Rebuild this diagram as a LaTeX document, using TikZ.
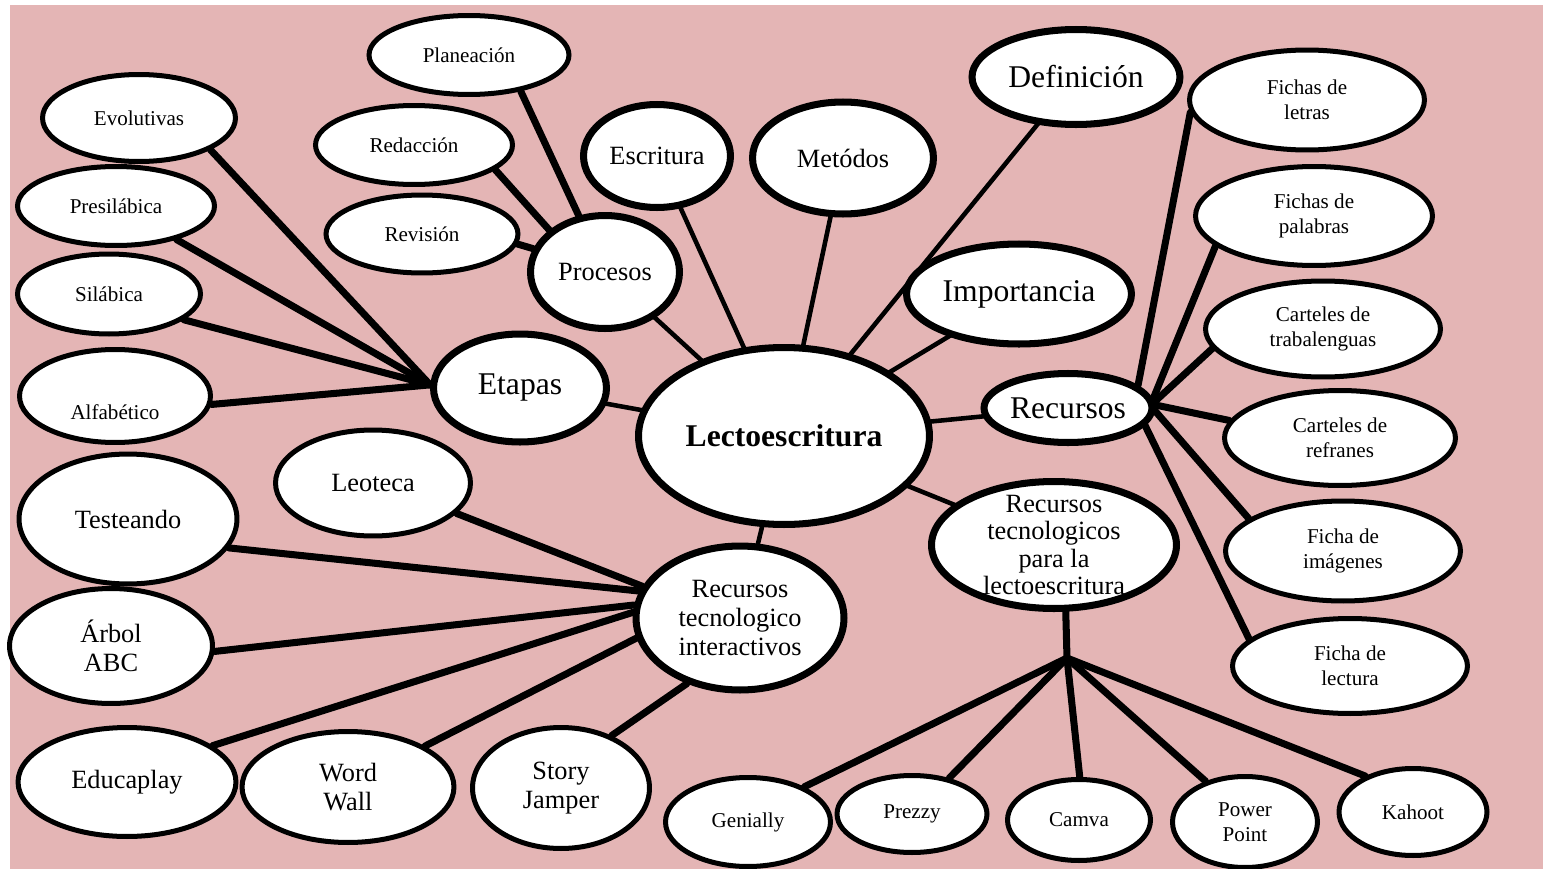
\documentclass[tikz,border=0pt]{standalone}
\usepackage{fontspec}
\setmainfont{Liberation Serif}
\usetikzlibrary{shapes.geometric,backgrounds}
\pgfdeclarelayer{lineas}
\pgfsetlayers{background,lineas,main}
\definecolor{rosa}{RGB}{228,181,181}

\begin{document}
\begin{tikzpicture}
	[x=0.02cm, y=-0.02cm,
	burbuja/.style = {draw, fill=white, ellipse, inner sep=0pt, align=center, line width=2.85pt},
	nodo/.style = {burbuja, line width=4pt},
	central/.style = {nodo, font=\fontsize{18}{20}\selectfont\bfseries},
	letra grande/.style = {font=\fontsize{18}{20}\selectfont},
	letra media/.style = {font=\fontsize{15}{16.5}\selectfont},
	letra chica/.style = {font=\fontsize{12}{14}\selectfont},
	rama/.style = {line width=4pt, line cap=round},
	enlace/.style = {line width=2.6pt}
	]
	\useasboundingbox (0,0) rectangle (1543,869);
	\begin{pgfonlayer}{background}
		\fill[rosa] (10,5) rectangle (1543,869);
	\end{pgfonlayer}

	\node[central, minimum width=5.82cm, minimum height=3.54cm] (lecto) at (784,436) {Lectoescritura};

	\node[nodo, letra grande, minimum width=3.46cm, minimum height=2.16cm] (etapas) at (520,388) {Etapas};
	\node[nodo, letra media, minimum width=2.98cm, minimum height=2.26cm] (procesos) at (605,272) {Procesos};
	\node[nodo, letra media, minimum width=2.94cm, minimum height=2.06cm] (escritura) at (657,156) {Escritura};
	\node[nodo, letra media, minimum width=3.62cm, minimum height=2.24cm] (metodos) at (843,158) {Metódos};
	\node[nodo, letra grande, minimum width=4.16cm, minimum height=1.9cm] (definicion) at (1076,77) {Definición};
	\node[nodo, letra grande, minimum width=4.5cm, minimum height=2.0cm] (importancia) at (1019,294) {Importancia};
	\node[nodo, letra grande, minimum width=3.36cm, minimum height=1.38cm] (recursos) at (1068,408) {Recursos};
	\node[nodo, letra media, font=\fontsize{15}{15.5}\selectfont, inner ysep=-10pt, minimum width=4.9cm, minimum height=2.54cm] (rtl) at (1054,545) {Recursos\\tecnologicos\\para la\\lectoescritura};
	\node[nodo, letra media, minimum width=4.16cm, minimum height=2.88cm] (rti) at (740,618) {Recursos\\tecnologico\\interactivos};

	\node[burbuja, letra chica, minimum width=3.86cm, minimum height=1.74cm] (evolutivas) at (139,118) {Evolutivas};
	\node[burbuja, letra chica, minimum width=3.94cm, minimum height=1.58cm] (presilabica) at (116,206) {Presilábica};
	\node[burbuja, letra chica, minimum width=3.66cm, minimum height=1.6cm] (silabica) at (109,294) {Silábica};
	\node[burbuja, letra chica, minimum width=3.82cm, minimum height=1.86cm] (alfabetico) at (115,396) {\raisebox{-13.5pt}[0pt][0pt]{Alfabético}};
	\node[burbuja, letra chica, minimum width=4.0cm, minimum height=1.58cm] (planeacion) at (469,55) {Planeación};
	\node[burbuja, letra chica, minimum width=3.94cm, minimum height=1.58cm] (redaccion) at (414,145) {Redacción};
	\node[burbuja, letra chica, minimum width=3.84cm, minimum height=1.56cm] (revision) at (422,234) {Revisión};

	\node[burbuja, letra media, minimum width=3.9cm, minimum height=2.12cm] (leoteca) at (373,483) {Leoteca};
	\node[burbuja, letra media, minimum width=4.36cm, minimum height=2.6cm] (testeando) at (128,519) {Testeando};
	\node[burbuja, letra media, minimum width=4.06cm, minimum height=2.3cm] (arbol) at (111,646) {Árbol\\ABC};
	\node[burbuja, letra media, minimum width=4.36cm, minimum height=2.18cm] (educaplay) at (127,782) {Educaplay};
	\node[burbuja, letra media, minimum width=4.24cm, minimum height=2.22cm] (wordwall) at (348,787) {Word\\Wall};
	\node[burbuja, letra media, minimum width=3.54cm, minimum height=2.42cm] (story) at (561,788) {Story\\Jamper};

	\node[burbuja, letra chica, minimum width=4.7cm, minimum height=2.0cm] (letras) at (1307,100) {Fichas de\\letras};
	\node[burbuja, letra chica, minimum width=4.74cm, minimum height=1.98cm] (palabras) at (1314,216) {Fichas de\\palabras};
	\node[burbuja, letra chica, minimum width=4.7cm, minimum height=1.92cm] (trabalenguas) at (1323,329) {Carteles de\\trabalenguas};
	\node[burbuja, letra chica, minimum width=4.62cm, minimum height=1.9cm] (refranes) at (1340,438) {Carteles de\\refranes};
	\node[burbuja, letra chica, minimum width=4.7cm, minimum height=2.0cm] (imagenes) at (1343,551) {Ficha de\\imágenes};
	\node[burbuja, letra chica, minimum width=4.7cm, minimum height=1.9cm] (lectura) at (1350,666) {Ficha de\\lectura};

	\node[burbuja, letra chica, minimum width=3.3cm, minimum height=1.78cm] (genially) at (748,822) {Genially};
	\node[burbuja, letra chica, minimum width=3.0cm, minimum height=1.54cm] (prezzy) at (912,814) {Prezzy};
	\node[burbuja, letra chica, minimum width=2.86cm, minimum height=1.62cm] (camva) at (1079,820) {Camva};
	\node[burbuja, letra chica, minimum width=2.9cm, minimum height=1.82cm] (powerpoint) at (1245,822) {Power\\Point};
	\node[burbuja, letra chica, minimum width=2.96cm, minimum height=1.74cm] (kahoot) at (1413,812) {Kahoot};

	\coordinate (nudoT) at (1067,658);

	\begin{pgfonlayer}{lineas}
		\foreach \hijo in {etapas,procesos,escritura,metodos,definicion,importancia,recursos,rtl,rti}
			\draw[enlace] (lecto.center) -- (\hijo.center);

		\draw[rama] (evolutivas.-24) -- (etapas.178);
		\draw[rama] (presilabica.-29) -- (etapas.178);
		\draw[rama] (silabica.-19) -- (etapas.178);
		\draw[rama] (alfabetico.-5) -- (etapas.178);

		\draw[rama] (planeacion.-35) -- (procesos.115);
		\draw[rama] (redaccion.-17) -- (procesos.143);
		\draw[rama] (revision.-6) -- (procesos.162);

		\draw[rama] (leoteca.-20) -- (rti.162);
		\draw[rama] (testeando.-16) -- (rti.165);
		\draw[rama] (arbol.-3) -- (rti.173);
		\draw[rama] (educaplay.23) -- (rti.177);
		\draw[rama] (wordwall.28) -- (rti.191);
		\draw[rama] (story.46) -- (rti.231);

		\draw[rama] (letras.186) -- (recursos.18);
		\draw[rama] (palabras.197) -- (recursos.6);
		\draw[rama] (trabalenguas.190) -- (recursos.4);
		\draw[rama] (refranes.171) -- (recursos.2);
		\draw[rama] (imagenes.161) -- (recursos.-2);
		\draw[rama] (lectura.165) -- (recursos.-13);

		\draw[rama] (rtl.-80) -- (nudoT);
		\draw[rama] (nudoT) -- (genially.32);
		\draw[rama] (nudoT) -- (prezzy.44);
		\draw[rama] (nudoT) -- (camva.89);
		\draw[rama] (nudoT) -- (powerpoint.134);
		\draw[rama] (nudoT) -- (kahoot.143);
	\end{pgfonlayer}
\end{tikzpicture}
\end{document}
